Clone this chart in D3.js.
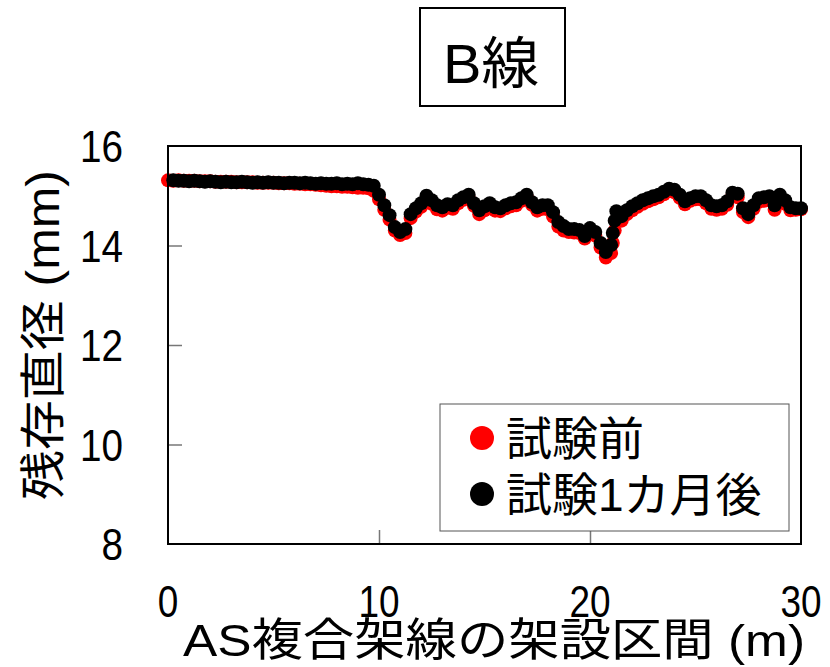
<!DOCTYPE html>
<html>
<head>
<meta charset="utf-8">
<script src="https://cdn.jsdelivr.net/npm/d3@7"></script>
<style>
  body { margin: 0; background: #fff; }
  text { font-family: "Liberation Sans", "Noto Sans CJK JP", sans-serif; fill: #000; }
</style>
</head>
<body>
<div id="chart"></div>
<script>
// 架設区間 (m) — 0.25 m 間隔 (21 m 付近の急変部は追加点あり)
const distance = [
  0, 0.25, 0.5, 0.75, 1, 1.25, 1.5, 1.75, 2, 2.25, 2.5, 2.75, 3, 3.25, 3.5, 3.75,
  4, 4.25, 4.5, 4.75, 5, 5.25, 5.5, 5.75, 6, 6.25, 6.5, 6.75, 7, 7.25, 7.5, 7.75,
  8, 8.25, 8.5, 8.75, 9, 9.25, 9.5, 9.75, 10, 10.25, 10.5, 10.75, 11, 11.25, 11.5, 11.75,
  12, 12.25, 12.5, 12.75, 13, 13.25, 13.5, 13.75, 14, 14.25, 14.5, 14.75, 15, 15.25, 15.5, 15.75,
  16, 16.25, 16.5, 16.75, 17, 17.25, 17.5, 17.75, 18, 18.25, 18.5, 18.75, 19, 19.25, 19.5, 19.75,
  20, 20.25, 20.5, 20.75, 21, 21.08, 21.17, 21.25, 21.5, 21.75, 22, 22.25, 22.5, 22.75, 23, 23.25, 23.5, 23.75,
  24, 24.25, 24.5, 24.75, 25, 25.25, 25.5, 25.75, 26, 26.25, 26.5, 26.75, 27, 27.25, 27.5, 27.75,
  28, 28.25, 28.5, 28.75, 29, 29.25, 29.5, 29.75, 30
];

// 試験前 (mm)
const before = [
  15.31, 15.30, 15.31, 15.30, 15.30, 15.30, 15.29, 15.29, 15.29, 15.28,
  15.28, 15.28, 15.28, 15.27, 15.27, 15.27, 15.27, 15.26, 15.26, 15.26,
  15.26, 15.25, 15.25, 15.25, 15.24, 15.24, 15.23, 15.23, 15.22, 15.21,
  15.20, 15.19, 15.19, 15.18, 15.18, 15.17, 15.16, 15.16, 15.15, 15.10,
  14.93, 14.72, 14.52, 14.30, 14.21, 14.25, 14.55, 14.68, 14.78, 14.93,
  14.84, 14.73, 14.70, 14.76, 14.74, 14.85, 14.92, 14.96, 14.80, 14.63,
  14.71, 14.79, 14.70, 14.69, 14.75, 14.79, 14.81, 14.90, 14.97, 14.82,
  14.70, 14.74, 14.73, 14.58, 14.38, 14.30, 14.27, 14.26, 14.25, 14.14,
  14.30, 14.20, 13.96, 13.76, 13.85, 14.05, 14.30, 14.52, 14.50, 14.63, 14.71, 14.78,
  14.84, 14.89, 14.93, 14.97, 15.03, 15.10, 15.07, 14.96, 14.83, 14.90,
  14.93, 14.93, 14.85, 14.74, 14.72, 14.74, 14.82, 15.00, 14.97, 14.67,
  14.57, 14.74, 14.88, 14.90, 14.91, 14.72, 14.95, 14.84, 14.71, 14.72,
  14.73
];

// 試験1カ月後 (mm) — 0 m 地点は未計測
const after = [
  null, 15.31, 15.30, 15.30, 15.29, 15.30, 15.29, 15.28, 15.29, 15.28,
  15.27, 15.28, 15.27, 15.27, 15.28, 15.27, 15.26, 15.27, 15.26, 15.27,
  15.26, 15.26, 15.25, 15.26, 15.26, 15.25, 15.26, 15.25, 15.24, 15.25,
  15.24, 15.24, 15.25, 15.23, 15.24, 15.23, 15.25, 15.23, 15.22, 15.20,
  15.02, 14.81, 14.61, 14.37, 14.27, 14.33, 14.63, 14.75, 14.85, 15.00,
  14.91, 14.81, 14.77, 14.83, 14.81, 14.91, 14.97, 15.02, 14.85, 14.71,
  14.79, 14.85, 14.77, 14.75, 14.81, 14.85, 14.87, 14.95, 15.02, 14.87,
  14.77, 14.81, 14.81, 14.67, 14.47, 14.39, 14.33, 14.33, 14.31, 14.19,
  14.35, 14.27, 14.05, 13.87, 14.01, 14.25, 14.50, 14.69, 14.59, 14.71, 14.79, 14.85,
  14.91, 14.95, 14.99, 15.02, 15.08, 15.14, 15.12, 15.02, 14.89, 14.95,
  14.99, 14.99, 14.91, 14.81, 14.79, 14.81, 14.89, 15.06, 15.04, 14.75,
  14.63, 14.81, 14.95, 14.97, 14.99, 14.81, 15.02, 14.91, 14.77, 14.75,
  14.75
];

const seriesNames = ["試験前", "試験1カ月後"];
const seriesColors = ["#ff0000", "#000000"];
const xTicks = [0, 10, 20, 30];
const yTicks = [8, 10, 12, 14, 16];

const width = 830;
const height = 667;
const plot = { left: 168, top: 146, right: 801, bottom: 544 };

const svg = d3.select("#chart")
  .append("svg")
  .attr("width", width)
  .attr("height", height);

const x = d3.scaleLinear().domain([0, 30]).range([plot.left, plot.right]);
const y = d3.scaleLinear().domain([8, 16]).range([plot.bottom, plot.top]);

// 内向きの目盛り
svg.append("g")
  .attr("transform", `translate(${plot.left},0)`)
  .call(d3.axisRight(y).tickValues(yTicks.slice(1, -1)).tickSize(14).tickFormat(""))
  .call(g => g.select(".domain").remove())
  .call(g => g.selectAll("line").attr("stroke", "#777").attr("stroke-width", 1.5));

svg.append("g")
  .attr("transform", `translate(0,${plot.bottom})`)
  .call(d3.axisTop(x).tickValues(xTicks.slice(1, -1)).tickSize(14).tickFormat(""))
  .call(g => g.select(".domain").remove())
  .call(g => g.selectAll("line").attr("stroke", "#777").attr("stroke-width", 1.5));

// 目盛りラベル
svg.append("g").selectAll("text")
  .data(yTicks)
  .enter()
  .append("text")
  .attr("transform", d => `translate(123,${y(d)}) scale(0.86,1)`)
  .attr("text-anchor", "end")
  .attr("dy", "0.36em")
  .attr("font-size", "45px")
  .text(d => d);

svg.append("g").selectAll("text")
  .data(xTicks)
  .enter()
  .append("text")
  .attr("transform", d => `translate(${x(d)},617) scale(0.84,1)`)
  .attr("text-anchor", "middle")
  .attr("font-size", "44px")
  .text(d => d);

// データ点
const series = [before, after];
series.forEach((vals, si) => {
  const pts = distance.map((d, i) => ({ d: d, v: vals[i] })).filter(p => p.v != null);
  svg.append("g").selectAll("circle")
    .data(pts)
    .enter()
    .append("circle")
    .attr("cx", p => x(p.d))
    .attr("cy", p => y(p.v))
    .attr("r", 7)
    .attr("fill", seriesColors[si]);
});

// プロット枠
svg.append("rect")
  .attr("x", plot.left)
  .attr("y", plot.top)
  .attr("width", plot.right - plot.left)
  .attr("height", plot.bottom - plot.top)
  .attr("fill", "none")
  .attr("stroke", "#000")
  .attr("stroke-width", 2);

// 軸タイトル
svg.append("text")
  .attr("x", 183)
  .attr("y", 656)
  .attr("font-size", "45px")
  .attr("textLength", 622)
  .attr("lengthAdjust", "spacingAndGlyphs")
  .text("AS複合架線の架設区間 (m)");

svg.append("text")
  .attr("transform", "translate(59,500) rotate(-90)")
  .attr("font-size", "46px")
  .attr("textLength", 330)
  .attr("lengthAdjust", "spacingAndGlyphs")
  .text("残存直径 (mm)");

// タイトル
svg.append("rect")
  .attr("x", 420)
  .attr("y", 8)
  .attr("width", 145)
  .attr("height", 98)
  .attr("fill", "#fff")
  .attr("stroke", "#000")
  .attr("stroke-width", 2);

svg.append("text")
  .attr("x", 443)
  .attr("y", 83)
  .attr("font-size", "56px")
  .attr("textLength", 96)
  .attr("lengthAdjust", "spacingAndGlyphs")
  .text("B線");

// 凡例
const legend = svg.append("g");
legend.append("rect")
  .attr("x", 440)
  .attr("y", 404)
  .attr("width", 349)
  .attr("height", 127)
  .attr("fill", "#fff")
  .attr("stroke", "#555")
  .attr("stroke-width", 1);

const legendY = [438, 494];
seriesNames.forEach((name, i) => {
  legend.append("circle")
    .attr("cx", 482)
    .attr("cy", legendY[i])
    .attr("r", 12)
    .attr("fill", seriesColors[i]);
  legend.append("text")
    .attr("x", 506)
    .attr("y", legendY[i] + 17)
    .attr("font-size", "46px")
    .text(name);
});
</script>
</body>
</html>
